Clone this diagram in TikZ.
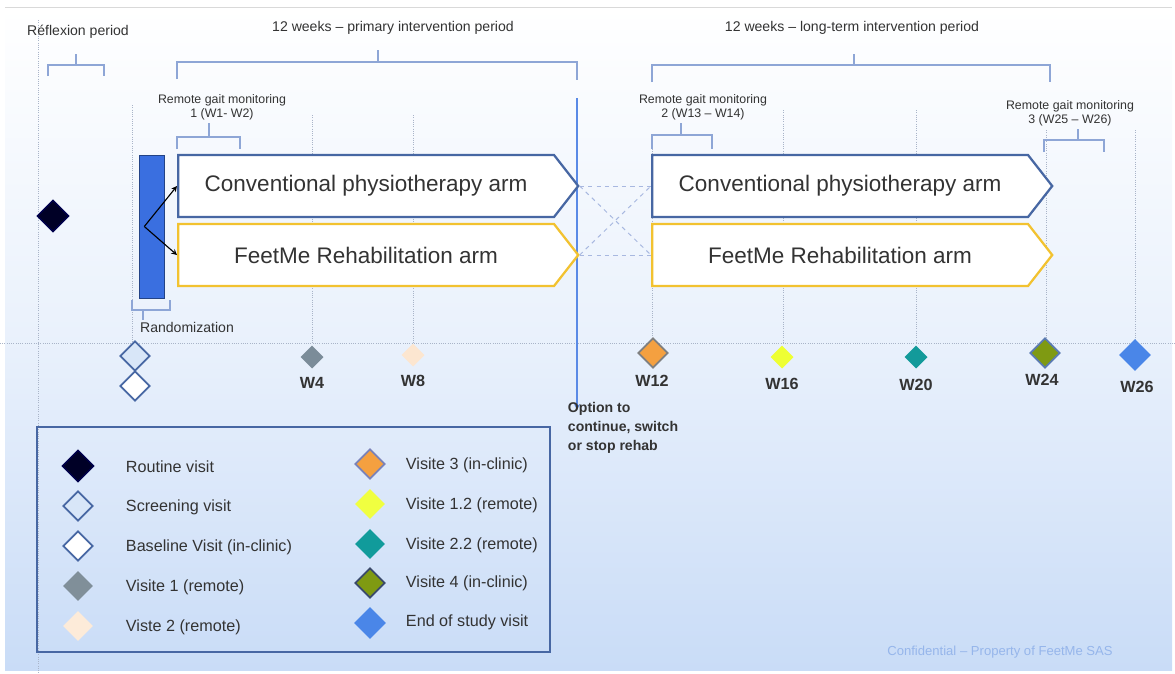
\documentclass[tikz,border=0pt]{standalone}
\usepackage{fontspec}
\setmainfont{Liberation Sans}
\usepackage{tikz}
\usetikzlibrary{shapes.geometric, shapes.symbols, arrows, positioning}
\definecolor{bgBlue}{HTML}{C9DCF7}
\definecolor{gridGray}{HTML}{A9B4C8}
\definecolor{braceBlue}{HTML}{8EA6D6}
\definecolor{armBlue}{HTML}{4767A3}
\definecolor{armYellow}{HTML}{F2C230}
\definecolor{randBlue}{HTML}{3A6FE0}
\definecolor{textGray}{HTML}{333333}
\definecolor{linkBlue}{HTML}{A8B8E0}
\definecolor{optBlue}{HTML}{5A8AE6}
\definecolor{screenBlue}{HTML}{D8E6F8}
\tikzstyle{arrow} = [thick,->,>=stealth]
\tikzstyle{visit} = [diamond, aspect=1, inner sep=0pt, minimum size=0.75cm]
\tikzstyle{smallVisit} = [diamond, aspect=1, inner sep=0pt, minimum size=0.58cm]
\tikzstyle{bracket} = [draw=braceBlue, line width=0.9pt]
\tikzstyle{gridLine} = [draw=gridGray, densely dotted, line width=0.6pt]
\tikzstyle{arm} = [signal, signal to=east, signal pointer angle=104, minimum width=10cm, minimum height=1.55cm, line width=1.6pt, fill=white, text=textGray, anchor=west, font=\fontsize{16}{18}\selectfont]
\tikzstyle{periodText} = [text=textGray, font=\fontsize{10}{12}\selectfont]
\tikzstyle{monitorText} = [text=textGray, align=center, font=\fontsize{8.8}{10}\selectfont]
\tikzstyle{weekLabel} = [text=textGray, font=\fontsize{11.5}{13}\selectfont\bfseries]
\tikzstyle{legendText} = [anchor=west, text=textGray, font=\fontsize{11.5}{13}\selectfont]
\tikzstyle{dashLink} = [draw=linkBlue, dashed, line width=0.7pt]

\begin{document}
\begin{tikzpicture}[x=0.025cm, y=-0.025cm]
\useasboundingbox (0,0) rectangle (1175,673);
% slide background
\shade[top color=white, bottom color=bgBlue, middle color=white!60!bgBlue] (5,7) rectangle (1172,670);
\draw[gray!30] (5,7) -- (1172,7);

% time grid
\draw[gridLine] (38,20) -- (38,673);
\draw[gridLine] (0,343) -- (1175,343);
\draw[gridLine] (132,105) -- (132,343);
\draw[gridLine] (312,115) -- (312,343);
\draw[gridLine] (413,115) -- (413,343);
\draw[gridLine] (652,135) -- (652,343);
\draw[gridLine] (783,110) -- (783,343);
\draw[gridLine] (916,110) -- (916,343);
\draw[gridLine] (1046,130) -- (1046,343);
\draw[gridLine] (1135,130) -- (1135,343);

% periods
\node (reflexion) [periodText] at (78,32) {Réflexion period};
\draw[bracket] (48,76) -- (48,65) -- (104,65) -- (104,76) (76,65) -- (76,54);
\node (primary) [periodText] at (393,28) {12 weeks -- primary intervention period};
\draw[bracket] (177,79) -- (177,62) -- (577,62) -- (577,80) (378,62) -- (378,50);
\node (longterm) [periodText] at (852,28) {12 weeks -- long-term intervention period};
\draw[bracket] (652,82) -- (652,65) -- (1050,65) -- (1050,82) (854,65) -- (854,54);

% remote gait monitoring
\node (monitorA) [monitorText] at (222,107) {Remote gait monitoring\\1 (W1- W2)};
\draw[bracket] (177,149) -- (177,137) -- (240,137) -- (240,149) (209,137) -- (209,123);
\node (monitorB) [monitorText] at (703,107) {Remote gait monitoring\\2 (W13 -- W14)};
\draw[bracket] (652,149) -- (652,135) -- (712,135) -- (712,149) (681,135) -- (681,123);
\node (monitorC) [monitorText] at (1070,113) {Remote gait monitoring\\3 (W25 -- W26)};
\draw[bracket] (1044,152) -- (1044,140) -- (1104,140) -- (1104,152) (1078,140) -- (1078,129);

% option line
\coordinate (optTop) at (577,98);
\coordinate (optEnd) at (577,410);
\draw[optBlue, line width=0.9pt, ->, >=stealth] (optTop) -- (optEnd);

% arms
\node (armA) [arm, draw=armBlue] at (177,186) {Conventional physiotherapy arm};
\node (armB) [arm, draw=armYellow] at (177,255) {FeetMe Rehabilitation arm};
\node (armC) [arm, draw=armBlue] at (651,186) {Conventional physiotherapy arm};
\node (armD) [arm, draw=armYellow] at (651,255) {FeetMe Rehabilitation arm};
\draw[dashLink] (armA.east) -- (armC.west);
\draw[dashLink] (armB.east) -- (armD.west);
\draw[dashLink] (armA.east) -- (armD.west);
\draw[dashLink] (armB.east) -- (armC.west);

% randomization
\node (rand) [rectangle, fill=randBlue, draw=randBlue!60!black, minimum width=0.625cm, minimum height=3.575cm] at (151.5,226.5) {};
\draw[arrow, black] ([xshift=-0.18cm]rand.center) -- (armA.west);
\draw[arrow, black] ([xshift=-0.18cm]rand.center) -- (armB.west);
\draw[bracket] (132,300) -- (132,310) -- (170,310) -- (170,300) (143,310) -- (143,320);
\node (randText) [periodText] at (187,327) {Randomization};

% visits
\node (routine) [visit, minimum size=0.8cm, fill=black!85!blue, draw=blue!30!black, line width=1pt] at (53,216) {};
\node (screening) [visit, fill=screenBlue, draw=armBlue, line width=1.2pt] at (135,356) {};
\node (baseline) [visit, fill=white, draw=armBlue, line width=1.2pt] at (135,386) {};
\node (w4) [smallVisit, fill={rgb,255:red,123;green,140;blue,153}] at (312,357) {};
\node (w8) [smallVisit, fill={rgb,255:red,252;green,230;blue,208}] at (413,355) {};
\node (w12) [visit, fill={rgb,255:red,244;green,160;blue,64}, draw=gray, line width=1.2pt] at (653,353) {};
\node (w16) [smallVisit, fill={rgb,255:red,238;green,255;blue,51}] at (782,357) {};
\node (w20) [smallVisit, fill={rgb,255:red,19;green,154;blue,154}] at (916,357) {};
\node (w24) [visit, fill={rgb,255:red,127;green,154;blue,18}, draw={rgb,255:red,90;green,122;blue,176}, line width=1.2pt] at (1045,353) {};
\node (w26) [visit, minimum size=0.8cm, fill={rgb,255:red,74;green,134;blue,232}] at (1135,355) {};
\node [weekLabel] at (312,383) {W4};
\node [weekLabel] at (413,381) {W8};
\node [weekLabel] at (652,381) {W12};
\node [weekLabel] at (782,384) {W16};
\node [weekLabel] at (916,385) {W20};
\node [weekLabel] at (1042,380) {W24};
\node [weekLabel] at (1137,387) {W26};
\node (option) [anchor=north west, align=left, text=textGray, font=\fontsize{10}{13.5}\selectfont\bfseries] at (563,397) {Option to\\continue, switch\\or stop rehab};

% legend
\node (legend) [draw=armBlue, line width=1.2pt, minimum width=12.825cm, minimum height=5.625cm] at (293.5,539.5) {};
\node (keyA) [visit, minimum size=0.8cm, fill=black!85!blue, draw=blue!30!black, line width=1pt] at (78,466) {};
\node [legendText] at (121,467) {Routine visit};
\node (keyB) [visit, fill=screenBlue, draw=armBlue, line width=1.2pt] at (78,506) {};
\node [legendText] at (121,507) {Screening visit};
\node (keyC) [visit, fill=white, draw=armBlue, line width=1.2pt] at (78,546) {};
\node [legendText] at (121,547) {Baseline Visit (in-clinic)};
\node (keyD) [visit, fill={rgb,255:red,128;green,143;blue,153}] at (78,586) {};
\node [legendText] at (121,587) {Visite 1 (remote)};
\node (keyE) [visit, fill={rgb,255:red,253;green,235;blue,217}] at (78,626) {};
\node [legendText] at (121,627) {Viste 2 (remote)};
\node (keyF) [visit, fill={rgb,255:red,244;green,160;blue,64}, draw={rgb,255:red,122;green,130;blue,184}, line width=1.2pt] at (370,464) {};
\node [legendText] at (401,465) {Visite 3 (in-clinic)};
\node (keyG) [visit, fill={rgb,255:red,240;green,255;blue,64}] at (370,504) {};
\node [legendText] at (401,505) {Visite 1.2 (remote)};
\node (keyH) [visit, fill={rgb,255:red,17;green,155;blue,155}] at (370,544) {};
\node [legendText] at (401,545) {Visite 2.2 (remote)};
\node (keyI) [visit, fill={rgb,255:red,127;green,154;blue,18}, draw={rgb,255:red,58;green,74;blue,106}, line width=1.2pt] at (370,583) {};
\node [legendText] at (401,583) {Visite 4 (in-clinic)};
\node (keyJ) [visit, minimum size=0.8cm, fill={rgb,255:red,74;green,134;blue,232}] at (370,623) {};
\node [legendText] at (401,622) {End of study visit};

\node (confidential) [text={rgb,255:red,150;green,182;blue,235}, font=\fontsize{9.3}{11}\selectfont] at (1000,652) {Confidential -- Property of FeetMe SAS};
\end{tikzpicture}
\end{document}
